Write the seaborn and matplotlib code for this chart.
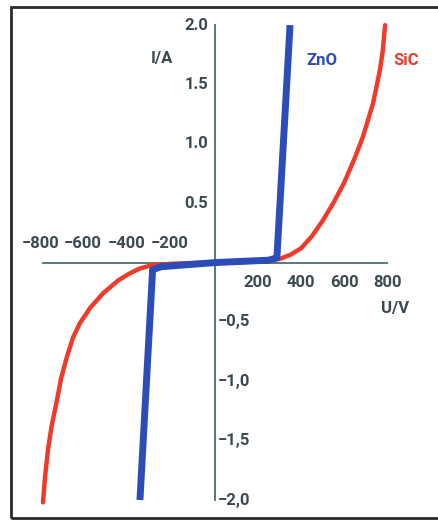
import matplotlib
matplotlib.use("Agg")
import matplotlib.pyplot as plt
import seaborn as sns
from matplotlib.patches import Rectangle

# I-U curves of ZnO and SiC varistors
zno_u = [-349, -290, -250, 0, 250, 288, 349]
zno_i = [-2.0, -0.06, -0.035, 0.0, 0.02, 0.04, 2.0]
sic_u = [-800, -790, -777, -760, -735, -715, -688, -660, -628, -580, -521, -450,
         -395, -350, -288, -200, -100, 0, 100, 200, 300, 350, 400, 450, 500,
         550, 600, 650, 688, 735, 767, 780, 791]
sic_i = [-2.02, -1.80, -1.58, -1.38, -1.16, -0.97, -0.79, -0.63, -0.51, -0.38, -0.26, -0.15,
         -0.09, -0.05, -0.02, -0.01, -0.004, 0.0, 0.003, 0.01, 0.03, 0.065, 0.12, 0.22, 0.35,
         0.50, 0.67, 0.88, 1.06, 1.34, 1.62, 1.78, 2.0]

xticks = [-800, -600, -400, -200, 200, 400, 600, 800]
yticks = [2.0, 1.5, 1.0, 0.5, -0.5, -1.0, -1.5, -2.0]
ylabels = ["2.0", "1.5", "1.0", "0.5", "\u22120,5", "\u22121,0", "\u22121,5", "\u22122,0"]

sns.set_style("white")
plt.rcParams["font.family"] = ["Roboto", "DejaVu Sans"]

axis_col = "#4f6c74"
text_col = "#3b4a50"
blue = "#2c4cb8"
red = "#f03a2a"

fig = plt.figure(figsize=(4.38, 5.22), dpi=100)
fig.patch.set_facecolor("white")
ax = fig.add_axes([0.049, 0.008, 0.9475, 0.978])

sns.lineplot(x=sic_u, y=sic_i, sort=False, estimator=None, color=red, lw=3.2, ax=ax,
             solid_joinstyle="round")
sns.lineplot(x=zno_u, y=zno_i, sort=False, estimator=None, color=blue, lw=5, ax=ax,
             solid_capstyle="butt")

ax.set_xlim(-900, 1030)
ax.set_ylim(-2.15, 2.15)

for s in ["top", "right"]:
    ax.spines[s].set_visible(False)
ax.spines["left"].set_position(("data", 0))
ax.spines["bottom"].set_position(("data", 0))
ax.spines["left"].set_bounds(-2, 2)
ax.spines["bottom"].set_bounds(-800, 800)
for s in ["left", "bottom"]:
    ax.spines[s].set_color(axis_col)
    ax.spines[s].set_linewidth(1.3)
    ax.spines[s].set_zorder(1)

ax.set_xticks(xticks + [0])
ax.set_yticks(yticks)
ax.set_xticklabels([])
ax.set_yticklabels([])
ax.tick_params(direction="inout", length=6, width=1.2, color=axis_col)

fs = 12
tkw = dict(fontsize=fs, color=text_col, fontweight="bold", textcoords="offset points")
for u in xticks:
    if u < 0:
        ax.annotate("\u2212%d" % -u, (u, 0), xytext=(-2, 8), ha="center", va="bottom", **tkw)
    else:
        ax.annotate("%d" % u, (u, 0), xytext=(0, -9), ha="center", va="top", **tkw)
for i, lab in zip(yticks, ylabels):
    if i > 0:
        ax.annotate(lab, (0, i), xytext=(-5, 0), ha="right", va="center", **tkw)
    else:
        ax.annotate(lab, (0, i), xytext=(2, 0), ha="left", va="center", **tkw)

ax.text(-247, 1.72, "I/A", fontsize=fs, color=text_col, fontweight="bold", ha="center", va="center")
ax.text(837, -0.39, "U/V", fontsize=fs, color=text_col, fontweight="bold", ha="center", va="center")
ax.text(498, 1.70, "ZnO", fontsize=fs, color=blue, fontweight="bold", ha="center", va="center")
ax.text(888, 1.70, "SiC", fontsize=fs, color=red, fontweight="bold", ha="center", va="center")

fig.patches.append(Rectangle((0.026, 0.0077), 1.0, 0.979, transform=fig.transFigure,
                             fill=False, lw=2, edgecolor="#2a2a2a"))

fig.savefig("out.png", dpi=100)
